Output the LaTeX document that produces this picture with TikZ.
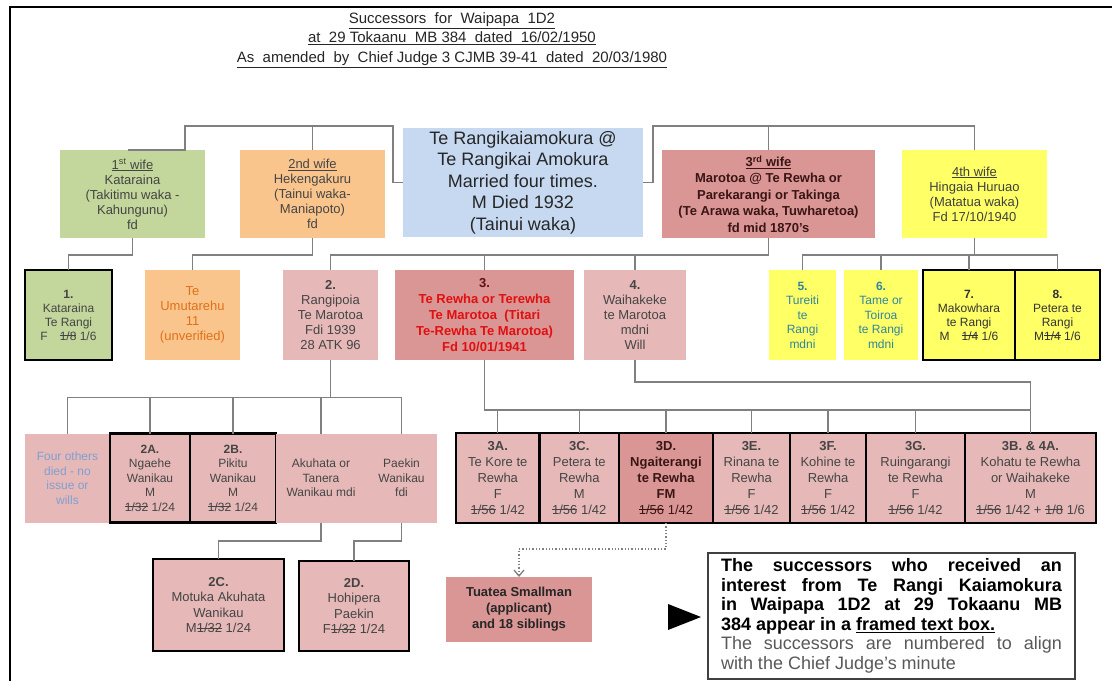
\documentclass[tikz,border=0pt]{standalone}
\usepackage{fontspec}
\setmainfont{Liberation Sans}
\usetikzlibrary{arrows.meta}
\definecolor{cgreen}{HTML}{C3D69B}
\definecolor{corange}{HTML}{FAC58C}
\definecolor{cblue}{HTML}{C6D9F1}
\definecolor{cred}{HTML}{D99694}
\definecolor{cpink}{HTML}{E6B9B8}
\definecolor{cyellow}{HTML}{FFFF66}
\definecolor{cline}{HTML}{808080}
\definecolor{ctxt}{HTML}{454545}
\definecolor{cteal}{HTML}{31859C}
\definecolor{cbluetxt}{HTML}{7F9FD0}
\definecolor{credtxt}{HTML}{E01010}
\definecolor{cdark}{HTML}{3A1515}
\definecolor{corgtxt}{HTML}{E0701A}
\newcommand{\fs}[2]{\fontsize{#1}{#2}\selectfont}
\newcommand{\strk}[1]{\leavevmode\setbox0=\hbox{#1}\rlap{\rule[0.33em]{\wd0}{0.07em}}\box0\relax}
\tikzset{
  box/.style={inner sep=0pt, outer sep=0pt, align=center, text=ctxt, font=\fs{13}{15}},
  fr/.style={draw=black, line width=2.2pt},
  conn/.style={draw=cline, line width=1.4pt},
}
\begin{document}
\begin{tikzpicture}[x=1pt,y=-1pt]
\useasboundingbox (0,0) rectangle (1112,681);
\fill[white] (0,0) rectangle (1112,681);
\draw[line width=1.5pt] (10,681) -- (10,7) -- (1112,7);
% title
\node[font=\fs{15}{19.5}, align=center, text=black!85] (title) at (452,40)
 {\underline{Successors\ \ for\ \ Waipapa\ \ 1D2}\\
  \underline{at\ \ 29 Tokaanu\ \ MB 384\ \ dated\ \ 16/02/1950}\\
  \underline{As\ \ amended\ \ by\ \ Chief Judge 3 CJMB 39-41\ \ dated\ \ 20/03/1980}};
% top row
\node[box, fill=cgreen, minimum width=145, minimum height=88] (w1) at (132.5,194)
 {\underline{1\textsuperscript{st} wife}\\Kataraina\\(Takitimu waka -\\Kahungunu)\\fd};
\node[box, fill=corange, minimum width=145, minimum height=88] (w2) at (312.5,194)
 {\underline{2nd wife}\\Hekengakuru\\(Tainui waka-\\Maniapoto)\\fd};
\node[box, fill=cblue, minimum width=240, minimum height=109, font=\fs{18}{21.5}, text=black!85] (ctr) at (523,182.5)
 {Te Rangikaiamokura @\\Te Rangikai Amokura\\Married four times.\\M Died 1932\\(Tainui waka)};
\node[box, fill=cred, minimum width=213, minimum height=88, font=\fs{13}{16.5}\bfseries, text=cdark] (w3) at (768.5,194)
 {\underline{3\textsuperscript{rd} wife}\\Marotoa @ Te Rewha or\\Parekarangi or Takinga\\(Te Arawa waka, Tuwharetoa)\\fd mid 1870's};
\node[box, fill=cyellow, minimum width=145, minimum height=88, text=black!75] (w4) at (974.5,194)
 {\underline{4th wife}\\Hingaia Huruao\\(Matatua waka)\\Fd 17/10/1940};
% second row
\node[box, fill=cgreen, fr, minimum width=87, minimum height=90, font=\fs{12}{14}] (k1) at (68.5,315)
 {\textbf{1.}\\Kataraina\\Te Rangi\\F\quad\strk{1/8} 1/6};
\node[box, fill=corange, minimum width=95, minimum height=90, text=corgtxt] (te) at (192.5,315)
 {Te\\Umutarehu\\11\\(unverified)};
\node[box, fill=cpink, minimum width=95, minimum height=90] (b2) at (330.5,315)
 {\textbf{2.}\\Rangipoia\\Te Marotoa\\Fdi 1939\\28 ATK 96};
\node[box, fill=cred, minimum width=179, minimum height=90, font=\fs{13}{16}\bfseries, text=credtxt] (b3) at (484.5,315)
 {\textcolor{cdark!80!red}{3.}\\Te Rewha or Terewha\\Te Marotoa\ \ (Titari\\Te-Rewha Te Marotoa)\\Fd 10/01/1941};
\node[box, fill=cpink, minimum width=102, minimum height=90] (b4) at (635,315)
 {\textbf{4.}\\Waihakeke\\te Marotoa\\mdni\\Will};
\node[box, fill=cyellow, minimum width=67, minimum height=90, font=\fs{12}{14.5}, text=cteal] (b5) at (802.5,315)
 {\textbf{5.}\\Tureiti\\te\\Rangi\\mdni};
\node[box, fill=cyellow, minimum width=73.5, minimum height=90, font=\fs{12}{14.5}, text=cteal] (b6) at (881,315)
 {\textbf{6.}\\Tame or\\Toiroa\\te Rangi\\mdni};
\node[box, fill=cyellow, fr, minimum width=92.5, minimum height=90, font=\fs{12}{14}, text=black!80] (b7) at (969,315)
 {\textbf{7.}\\Makowhara\\te Rangi\\M\quad\strk{1/4} 1/6};
\node[box, fill=cyellow, fr, minimum width=85, minimum height=90, font=\fs{12}{14}, text=black!80] (b8) at (1057.5,315)
 {\textbf{8.}\\Petera te\\Rangi\\M\strk{1/4} 1/6};
% third row left
\node[box, fill=cpink, minimum width=85, minimum height=89, font=\fs{12}{14.5}, text=cbluetxt] (four) at (67.5,478)
 {Four others\\died - no\\issue or\\wills};
\node[box, fill=cpink, fr, minimum width=80, minimum height=89, font=\fs{12}{14.5}] (a2) at (150,478)
 {\textbf{2A.}\\Ngaehe\\Wanikau\\M\\\strk{1/32} 1/24};
\node[box, fill=cpink, fr, minimum width=86, minimum height=89, font=\fs{12}{14.5}] (bb2) at (233,478)
 {\textbf{2B.}\\Pikitu\\Wanikau\\M\\\strk{1/32} 1/24};
\node[box, fill=cpink, minimum width=90, minimum height=89, font=\fs{12}{14.5}] (aku) at (321,478)
 {Akuhata or\\Tanera\\Wanikau mdi};
\node[box, fill=cpink, minimum width=71, minimum height=89, font=\fs{12}{14.5}] (pk) at (401.5,478)
 {Paekin\\Wanikau\\fdi};
% third row right
\node[box, fill=cpink, fr, minimum width=83.5, minimum height=90, font=\fs{13}{16}] (r3a) at (497.75,478)
 {\textbf{3A.}\\Te Kore te\\Rewha\\F\\\strk{1/56} 1/42};
\node[box, fill=cpink, fr, minimum width=79.5, minimum height=90, font=\fs{13}{16}] (r3c) at (579.25,478)
 {\textbf{3C.}\\Petera te\\Rewha\\M\\\strk{1/56} 1/42};
\node[box, fill=cred, fr, minimum width=94, minimum height=90, font=\fs{13}{16}, text=cdark] (r3d) at (666,478)
 {\textbf{3D.}\\\textbf{Ngaiterangi}\\\textbf{te Rewha}\\\textbf{FM}\\\strk{1/56} 1/42};
\node[box, fill=cpink, fr, minimum width=77, minimum height=90, font=\fs{13}{16}] (r3e) at (751.5,478)
 {\textbf{3E.}\\Rinana te\\Rewha\\F\\\strk{1/56} 1/42};
\node[box, fill=cpink, fr, minimum width=76, minimum height=90, font=\fs{13}{16}] (r3f) at (828,478)
 {\textbf{3F.}\\Kohine te\\Rewha\\F\\\strk{1/56} 1/42};
\node[box, fill=cpink, fr, minimum width=99, minimum height=90, font=\fs{13}{16}] (r3g) at (915.5,478)
 {\textbf{3G.}\\Ruingarangi\\te Rewha\\F\\\strk{1/56} 1/42};
\node[box, fill=cpink, fr, minimum width=131, minimum height=90, font=\fs{13}{16}] (r3b) at (1030.5,478)
 {\textbf{3B. \& 4A.}\\Kohatu te Rewha\\or Waihakeke\\M\\\strk{1/56} 1/42 + \strk{1/8} 1/6};
% fourth row
\node[box, fill=cpink, fr, minimum width=131, minimum height=92, font=\fs{13}{15.5}] (c2) at (218.5,605)
 {\textbf{2C.}\\Motuka Akuhata\\Wanikau\\M\strk{1/32} 1/24};
\node[box, fill=cpink, fr, minimum width=110, minimum height=90, font=\fs{13}{15.5}] (d2) at (354,606)
 {\textbf{2D.}\\Hohipera\\Paekin\\F\strk{1/32} 1/24};
\node[box, fill=cred, minimum width=146, minimum height=65, font=\fs{13}{16}\bfseries, text=black!85] (tua) at (519,609.5)
 {Tuatea Smallman\\(applicant)\\and 18 siblings};
% connectors top
\draw[conn] (ctr.west) -- ++(-10,0) |- (185,126) -- (185,150) -- (128,150);
\draw[conn] (w2.north) -- ++(0,-24);
\draw[conn] (ctr.east) -- ++(10,0) |- (974.5,126) -- (w4.north);
\draw[conn] (w3.north) -- ++(0,-24);
% connectors row 2
\draw[conn] (w1.south) -- ++(0,17) -| (k1.north);
\draw[conn] (w2.south) -- ++(0,17) -| (te.north);
\draw[conn] (w3.south) -- ++(0,17) -| (b2.north);
\draw[conn] (b3.north) -- ++(0,-15);
\draw[conn] (b4.north) -- ++(0,-15);
\draw[conn] (w4.south) -- ++(0,17);
\draw[conn] (b5.north) -- ++(0,-15) -| (b8.north);
\draw[conn] (b6.north) -- ++(0,-15);
\draw[conn] (b7.north) -- ++(0,-15);
% connectors row 3
\draw[conn] (b2.south) -- ++(0,37);
\draw[conn] (four.north) -- ++(0,-36) -| (pk.north);
\draw[conn] (a2.north) -- ++(0,-36);
\draw[conn] (bb2.north) -- ++(0,-36);
\draw[conn] (aku.north) -- ++(0,-36);
\draw[conn] (b3.south) -- ++(0,50) -| (r3b.north);
\draw[conn] (b4.south) -- ++(0,22) -| (r3b.north);
\foreach \n in {r3a,r3c,r3d,r3e,r3f,r3g} \draw[conn] (\n.north) -- ++(0,-23);
% connectors row 4
\draw[conn] (aku.south) -- ++(0,18.5) -| (c2.north);
\draw[conn] (pk.south) -- ++(0,18.5) -| (d2.north);
\draw[draw=gray, dotted, line width=1.3pt, -{Straight Barb[length=6pt,width=10pt]}] (r3d.south) -- ++(0,26) -| (tua.north);
% note
\fill[black] (668,604) -- (701,617) -- (668,630) -- cycle;
\node[draw=black!75, line width=1.5pt, minimum width=367, minimum height=126, inner sep=0pt, align=left, font=\fs{18}{19.5}] (note) at (891.5,616)
 {\textbf{\makebox[341pt][s]{The successors who received an}}\\
  \textbf{\makebox[341pt][s]{interest from Te Rangi Kaiamokura}}\\
  \textbf{\makebox[341pt][s]{in Waipapa 1D2 at 29 Tokaanu MB}}\\
  \textbf{384 appear in a \underline{framed text box.}}\\
  \textcolor{black!65}{\makebox[341pt][s]{The successors are numbered to align}}\\
  \textcolor{black!65}{with the Chief Judge's minute}};
\end{tikzpicture}
\end{document}
